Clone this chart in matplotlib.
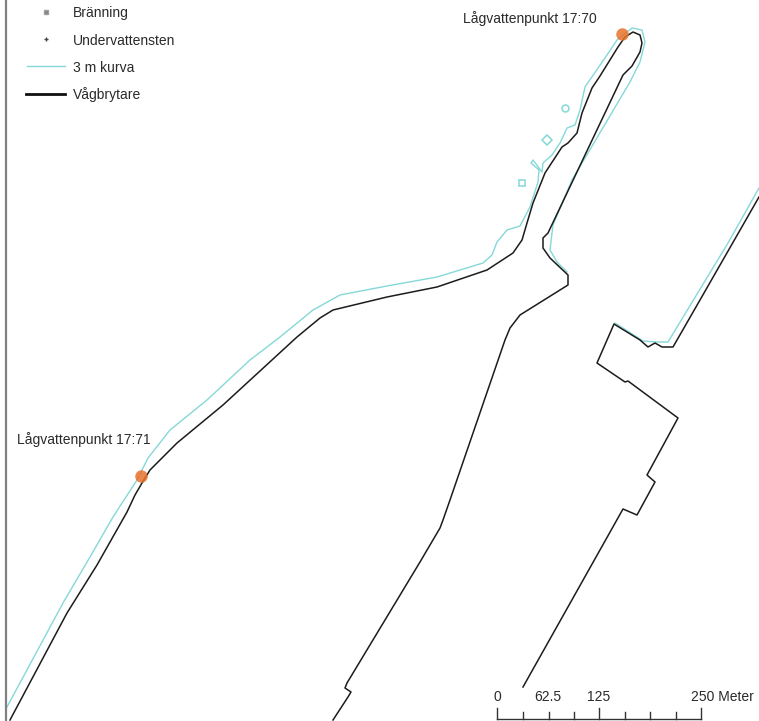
import matplotlib
matplotlib.use("Agg")
import matplotlib.pyplot as plt

breakwater_x = [10, 67, 97, 127, 135, 142, 150, 160, 177, 223, 297, 320, 333, 387, 437, 487, 513, 522, 527, 533, 545, 562, 568, 577, 582, 592, 600, 618, 625, 633, 640, 642, 640, 632, 623, 548, 543, 543, 550, 568, 568, 520, 510, 505, 450, 443, 440, 420, 347, 345, 351, 348, 333]
breakwater_y = [720, 613, 565, 512, 495, 483, 470, 460, 443, 405, 337, 318, 310, 297, 287, 270, 253, 240, 223, 203, 173, 147, 143, 133, 113, 88, 76, 47, 37, 32, 35, 43, 52, 66, 75, 233, 238, 248, 258, 275, 285, 315, 328, 340, 500, 520, 528, 562, 683, 688, 692, 697, 720]
quay_x = [759, 700, 673, 662, 655, 648, 640, 614, 597, 625, 628, 678, 647, 655, 637, 623, 523]
quay_y = [197, 300, 347, 347, 343, 347, 340, 324, 363, 382, 381, 418, 475, 482, 515, 509, 687]

curve_x = [7, 63, 90, 113, 137, 148, 170, 207, 250, 280, 313, 340, 387, 437, 483, 492, 497, 507, 520, 530, 538, 539, 531, 533, 542, 543, 552, 560, 567, 575, 580, 585, 607, 617, 632, 642, 645, 640, 630, 572, 553, 552, 550, 557, 567]
curve_y = [707, 603, 557, 517, 480, 458, 430, 400, 360, 337, 310, 295, 286, 277, 263, 255, 242, 230, 226, 207, 182, 170, 163, 160, 172, 163, 155, 143, 128, 125, 110, 87, 55, 40, 28, 30, 42, 62, 82, 180, 225, 233, 250, 262, 272]
curve2_x = [759, 728, 668, 657, 643, 615]
curve2_y = [188, 243, 342, 342, 341, 323]

low_points_x = [622, 141]
low_points_y = [34, 476]
low_labels = ["Lågvattenpunkt 17:70", "Lågvattenpunkt 17:71"]
label_x = [463, 17]
label_y = [19, 440]

rock_x = [522, 547, 565]
rock_y = [183, 140, 108]
rock_markers = ["s", "D", "o"]

scale_ticks = [497, 523, 549, 574, 599, 625, 650, 676, 701]
scale_labels = ["0", "62.5", "125", "250 Meter"]
scale_label_x = [497, 548, 599, 722]

legend_names = ["Bränning", "Undervattensten", "3 m kurva", "Vågbrytare"]
legend_y = [13, 41, 68, 95]

cyan = "#85d8d8"
ink = "#1c1c1c"

plt.rcParams["font.family"] = ["Liberation Sans", "DejaVu Sans"]
fig = plt.figure(figsize=(7.59, 7.21), dpi=100)
ax = fig.add_axes([0, 0, 1, 1])
ax.set_xlim(0, 759)
ax.set_ylim(721, 0)
ax.axis("off")

ax.plot(curve_x, curve_y, color=cyan, lw=1.0, solid_joinstyle="round")
ax.plot(curve2_x, curve2_y, color=cyan, lw=1.0, solid_joinstyle="round")
for i in range(3):
    ax.plot(rock_x[i], rock_y[i], rock_markers[i], ms=5, mfc="none", mec=cyan, mew=1.1)

ax.plot(breakwater_x, breakwater_y, color=ink, lw=1.1, solid_joinstyle="round")
ax.plot(quay_x, quay_y, color=ink, lw=1.1, solid_joinstyle="round")
ax.plot(low_points_x, low_points_y, "o", color="#e8722a", ms=9, mec="none", alpha=0.85)

for i in range(2):
    ax.text(label_x[i], label_y[i], low_labels[i], fontsize=10, color="#2a2a2a", va="center")

# left frame
ax.plot([6, 6], [0, 721], color="#808080", lw=1.6)

# legend by hand
ax.plot(46, 12, marker="s", ms=3, color="#808080", mec="#a0a0a0")
ax.plot(46, 39, marker="+", ms=3.5, color="#444444")
ax.plot([27, 65], [66, 66], color=cyan, lw=1.0)
ax.plot([26, 65], [94, 94], color="#111111", lw=2.0)
for i in range(4):
    ax.text(73, legend_y[i], legend_names[i], fontsize=10, color="#2a2a2a", va="center")

# scale bar
ax.plot([scale_ticks[0], scale_ticks[-1]], [719, 719], color="#333333", lw=1.0)
for i, t in enumerate(scale_ticks):
    top = 708 if i in (0, 4, 8) else 712
    ax.plot([t, t], [top, 719], color="#333333", lw=1.0)
for i in range(4):
    ax.text(scale_label_x[i], 697, scale_labels[i], fontsize=10, color="#2a2a2a", ha="center", va="center")

fig.savefig("out.png", dpi=100)
